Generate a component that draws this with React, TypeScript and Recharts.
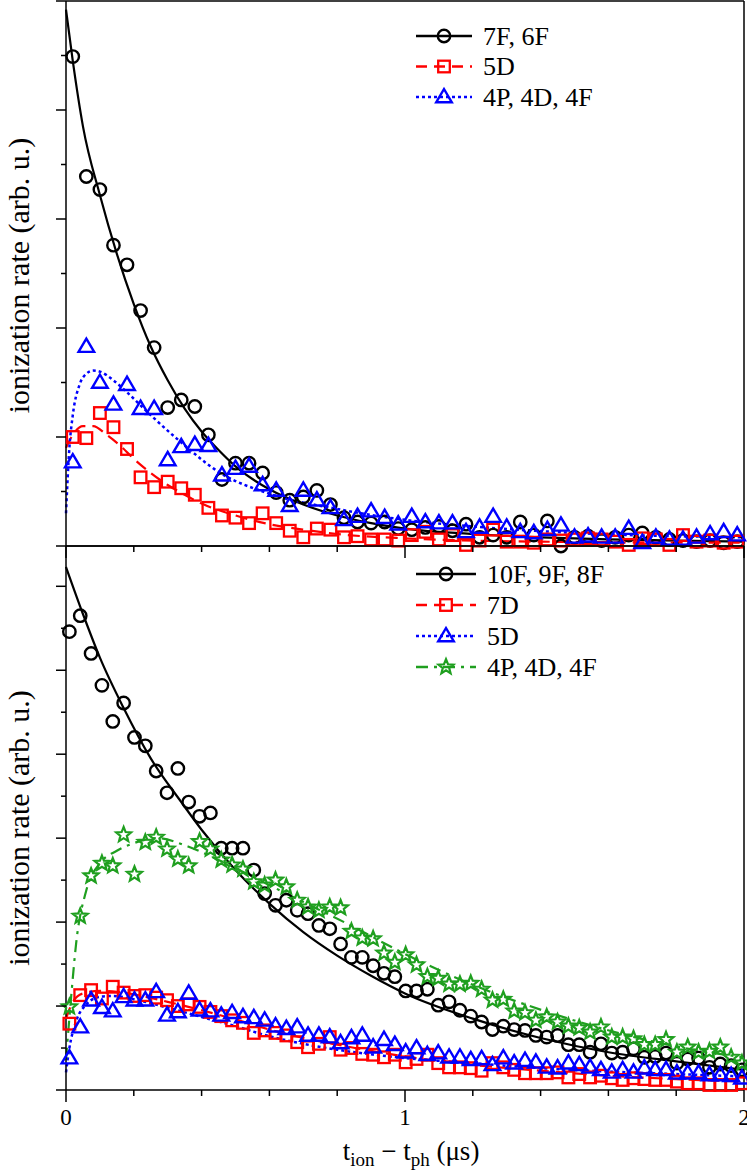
import React from 'react';
import { ComposedChart, Line, Scatter, XAxis, YAxis, Legend } from 'recharts';

const FONT = '"Liberation Serif", "Times New Roman", serif';
const BLACK = '#000000';
const RED = '#ff0000';
const BLUE = '#0000ff';
const GREEN = '#1f9f1f';

// ---------- tick values ----------
const X_MAJOR = [0, 1, 2];
const X_TICKS = [0, 0.2, 0.4, 0.6, 0.8, 1, 1.2, 1.4, 1.6, 1.8, 2];
const TOP_Y_MAX = 5;
const TOP_Y_MAJOR = [0, 1, 2, 3, 4, 5];
const TOP_Y_TICKS = [0, 0.5, 1, 1.5, 2, 2.5, 3, 3.5, 4, 4.5, 5];
const BOT_Y_MAX = 6.48;
const BOT_Y_MAJOR = [0, 1, 2, 3, 4, 5, 6];
const BOT_Y_TICKS = [0, 0.5, 1, 1.5, 2, 2.5, 3, 3.5, 4, 4.5, 5, 5.5, 6];

// ---------- top panel: measured points ----------
const TOP_X = [
  0.02, 0.06, 0.10, 0.14, 0.18, 0.22, 0.26, 0.30, 0.34, 0.38,
  0.42, 0.46, 0.50, 0.54, 0.58, 0.62, 0.66, 0.70, 0.74, 0.78,
  0.82, 0.86, 0.90, 0.94, 0.98, 1.02, 1.06, 1.10, 1.14, 1.18,
  1.22, 1.26, 1.30, 1.34, 1.38, 1.42, 1.46, 1.50, 1.54, 1.58,
  1.62, 1.66, 1.70, 1.74, 1.78, 1.82, 1.86, 1.90, 1.94, 1.98,
];
const TOP_BLACK = [
  4.49, 3.39, 3.27, 2.76, 2.58, 2.16, 1.82, 1.27, 1.34, 1.28,
  1.02, 0.61, 0.76, 0.76, 0.67, 0.49, 0.42, 0.45, 0.51, 0.38,
  0.26, 0.22, 0.21, 0.22, 0.16, 0.15, 0.17, 0.18, 0.14, 0.20,
  0.08, 0.10, 0.08, 0.22, 0.10, 0.23, 0.00, 0.08, 0.09, 0.05,
  0.08, 0.10, 0.12, 0.08, 0.06, 0.05, 0.04, 0.05, 0.03, 0.04,
];
const TOP_RED = [
  1.00, 0.99, 1.22, 1.09, 0.89, 0.63, 0.54, 0.59, 0.53, 0.47,
  0.35, 0.28, 0.26, 0.21, 0.30, 0.21, 0.14, 0.08, 0.16, 0.15,
  0.08, 0.09, 0.06, 0.06, 0.05, 0.10, 0.13, 0.06, 0.10, 0.01,
  0.05, 0.15, 0.04, 0.04, 0.03, 0.06, 0.05, 0.06, 0.07, 0.06,
  0.04, 0.01, 0.07, 0.06, 0.01, 0.10, 0.04, 0.05, 0.03, 0.04,
];
const TOP_BLUE = [
  0.77, 1.83, 1.50, 1.30, 1.48, 1.26, 1.26, 0.79, 0.91, 0.93,
  0.92, 0.65, 0.71, 0.73, 0.56, 0.51, 0.37, 0.51, 0.42, 0.35,
  0.24, 0.27, 0.32, 0.26, 0.20, 0.27, 0.22, 0.21, 0.21, 0.13,
  0.17, 0.27, 0.17, 0.13, 0.12, 0.15, 0.19, 0.08, 0.09, 0.08,
  0.08, 0.16, 0.03, 0.08, 0.06, 0.06, 0.08, 0.11, 0.13, 0.10,
];

// ---------- top panel: fitted curves ----------
const TOP_FIT_BLACK_X = [0, 0.02, 0.05, 0.10, 0.15, 0.20, 0.25, 0.30, 0.35, 0.40, 0.45, 0.50, 0.60, 0.70, 0.80, 0.90, 1.00, 1.20, 1.40, 1.60, 1.80, 2.00];
const TOP_FIT_BLACK_Y = [4.92, 4.45, 3.85, 3.22, 2.68, 2.22, 1.83, 1.52, 1.26, 1.05, 0.88, 0.73, 0.52, 0.38, 0.28, 0.21, 0.16, 0.11, 0.08, 0.06, 0.05, 0.04];
const TOP_FIT_RED_X = [0, 0.02, 0.05, 0.08, 0.12, 0.16, 0.20, 0.25, 0.30, 0.35, 0.40, 0.50, 0.60, 0.70, 0.80, 1.00, 1.40, 2.00];
const TOP_FIT_RED_Y = [0.90, 1.02, 1.10, 1.10, 1.02, 0.92, 0.80, 0.67, 0.56, 0.47, 0.39, 0.28, 0.20, 0.15, 0.11, 0.07, 0.04, 0.03];
const TOP_FIT_BLUE_X = [0, 0.01, 0.02, 0.04, 0.06, 0.08, 0.10, 0.14, 0.18, 0.25, 0.34, 0.45, 0.60, 0.80, 1.00, 1.20, 1.50, 2.00];
const TOP_FIT_BLUE_Y = [0.30, 0.90, 1.20, 1.48, 1.58, 1.61, 1.60, 1.52, 1.41, 1.20, 0.95, 0.68, 0.48, 0.34, 0.24, 0.18, 0.12, 0.08];

// ---------- bottom panel: measured points ----------
const BOT_X = [
  0.010, 0.042, 0.074, 0.106, 0.138, 0.170, 0.202, 0.234, 0.266, 0.298,
  0.330, 0.362, 0.394, 0.426, 0.458, 0.490, 0.522, 0.554, 0.586, 0.618,
  0.650, 0.682, 0.714, 0.746, 0.778, 0.810, 0.842, 0.874, 0.906, 0.938,
  0.970, 1.002, 1.034, 1.066, 1.098, 1.130, 1.162, 1.194, 1.226, 1.258,
  1.290, 1.322, 1.354, 1.386, 1.418, 1.450, 1.482, 1.514, 1.546, 1.578,
  1.610, 1.642, 1.674, 1.706, 1.738, 1.770, 1.802, 1.834, 1.866, 1.898,
  1.930, 1.962, 1.994,
];
const BOT_BLACK = [
  5.46, 5.65, 5.20, 4.82, 4.39, 4.61, 4.20, 4.10, 3.80, 3.54,
  3.83, 3.43, 3.26, 3.30, 2.88, 2.88, 2.88, 2.62, 2.34, 2.20,
  2.26, 2.14, 2.10, 1.96, 1.92, 1.74, 1.58, 1.58, 1.48, 1.39,
  1.35, 1.18, 1.18, 1.20, 1.01, 1.05, 0.95, 0.88, 0.81, 0.72,
  0.76, 0.72, 0.71, 0.65, 0.63, 0.65, 0.54, 0.54, 0.45, 0.55,
  0.44, 0.45, 0.49, 0.39, 0.40, 0.44, 0.32, 0.37, 0.38, 0.27,
  0.31, 0.29, 0.24,
];
const BOT_RED = [
  0.79, 1.13, 1.19, 1.09, 1.23, 1.16, 1.12, 1.13, 1.10, 1.07,
  1.00, 1.02, 0.99, 0.93, 0.88, 0.83, 0.80, 0.68, 0.71, 0.68,
  0.65, 0.57, 0.51, 0.55, 0.63, 0.48, 0.50, 0.43, 0.42, 0.39,
  0.42, 0.33, 0.37, 0.42, 0.32, 0.27, 0.27, 0.26, 0.23, 0.32,
  0.27, 0.24, 0.20, 0.20, 0.20, 0.21, 0.15, 0.19, 0.15, 0.17,
  0.14, 0.12, 0.14, 0.13, 0.12, 0.12, 0.10, 0.08, 0.08, 0.06,
  0.06, 0.06, 0.08,
];
const BOT_BLUE = [
  0.38, 0.75, 1.07, 0.98, 0.94, 1.11, 1.07, 1.07, 1.17, 0.89,
  0.93, 1.15, 0.95, 0.94, 0.89, 0.92, 0.87, 0.86, 0.83, 0.76,
  0.73, 0.75, 0.65, 0.65, 0.63, 0.56, 0.62, 0.65, 0.51, 0.60,
  0.54, 0.45, 0.50, 0.42, 0.44, 0.39, 0.39, 0.36, 0.37, 0.30,
  0.38, 0.32, 0.35, 0.33, 0.27, 0.26, 0.32, 0.30, 0.27, 0.24,
  0.21, 0.24, 0.21, 0.26, 0.24, 0.24, 0.20, 0.20, 0.20, 0.18,
  0.18, 0.17, 0.14,
];
const BOT_GREEN = [
  0.99, 2.07, 2.55, 2.70, 2.67, 3.04, 2.57, 2.95, 3.01, 2.87,
  2.75, 2.67, 2.96, 2.87, 2.74, 2.68, 2.63, 2.48, 2.44, 2.50,
  2.42, 2.26, 2.18, 2.14, 2.18, 2.17, 1.89, 1.81, 1.80, 1.63,
  1.52, 1.61, 1.49, 1.35, 1.33, 1.26, 1.26, 1.27, 1.20, 1.07,
  1.08, 0.94, 0.92, 0.83, 0.87, 0.81, 0.76, 0.74, 0.69, 0.75,
  0.63, 0.63, 0.61, 0.54, 0.54, 0.60, 0.45, 0.51, 0.45, 0.46,
  0.51, 0.39, 0.32,
];

// ---------- bottom panel: fitted curves ----------
const BOT_FIT_BLACK_X = [0, 0.05, 0.10, 0.17, 0.25, 0.34, 0.40, 0.50, 0.60, 0.70, 0.80, 0.90, 1.00, 1.20, 1.40, 1.60, 1.80, 2.00];
const BOT_FIT_BLACK_Y = [6.23, 5.67, 5.15, 4.55, 3.95, 3.43, 3.10, 2.62, 2.22, 1.88, 1.60, 1.36, 1.15, 0.85, 0.62, 0.45, 0.34, 0.24];
const BOT_FIT_RED_X = [0, 0.02, 0.05, 0.10, 0.15, 0.20, 0.30, 0.40, 0.50, 0.60, 0.70, 0.80, 1.00, 1.20, 1.40, 1.60, 1.80, 2.00];
const BOT_FIT_RED_Y = [0.85, 1.05, 1.15, 1.18, 1.17, 1.14, 1.05, 0.95, 0.84, 0.72, 0.62, 0.54, 0.40, 0.30, 0.23, 0.17, 0.13, 0.10];
const BOT_FIT_BLUE_X = [0, 0.01, 0.03, 0.06, 0.10, 0.14, 0.20, 0.30, 0.40, 0.50, 0.60, 0.70, 0.80, 1.00, 1.20, 1.40, 1.60, 1.80, 2.00];
const BOT_FIT_BLUE_Y = [0.21, 0.50, 0.82, 1.02, 1.11, 1.12, 1.08, 0.98, 0.87, 0.76, 0.64, 0.55, 0.48, 0.38, 0.32, 0.26, 0.22, 0.19, 0.16];
const BOT_FIT_GREEN_X = [0, 0.015, 0.03, 0.06, 0.10, 0.15, 0.20, 0.27, 0.36, 0.45, 0.60, 0.70, 0.83, 1.02, 1.22, 1.42, 1.61, 1.81, 2.00];
const BOT_FIT_GREEN_Y = [0.36, 1.10, 1.75, 2.38, 2.70, 2.85, 2.94, 3.00, 2.90, 2.74, 2.44, 2.24, 1.98, 1.58, 1.22, 0.93, 0.70, 0.51, 0.39];

// ---------- legend labels ----------
const TOP_LABELS = ['7F, 6F', '5D', '4P, 4D, 4F'];
const BOT_LABELS = ['10F, 9F, 8F', '7D', '5D', '4P, 4D, 4F'];
const Y_LABEL = 'ionization rate (arb. u.)';

const pts = (xs: number[], ys: number[]) => xs.map((x, i) => ({ x, y: ys[i] }));

// ---------- marker shapes ----------
const CircleMark = (p: any) => (
  <circle cx={p.cx} cy={p.cy} r={6.2} fill="none" stroke={BLACK} strokeWidth={2.4} />
);
const SquareMark = (p: any) => (
  <rect x={p.cx - 5.8} y={p.cy - 5.8} width={11.6} height={11.6} fill="none" stroke={RED} strokeWidth={2.3} />
);
const triPts = (cx: number, cy: number) =>
  `${cx},${cy - 8} ${cx + 7.8},${cy + 5.3} ${cx - 7.8},${cy + 5.3}`;
const TriangleMark = (p: any) => (
  <polygon points={triPts(p.cx, p.cy)} fill="none" stroke={BLUE} strokeWidth={2.4} strokeLinejoin="miter" />
);
const starPts = (cx: number, cy: number) => {
  const out: string[] = [];
  for (let i = 0; i < 10; i++) {
    const r = i % 2 === 0 ? 7.8 : 3.4;
    const a = -Math.PI / 2 + (i * Math.PI) / 5;
    out.push(`${cx + r * Math.cos(a)},${cy + r * Math.sin(a)}`);
  }
  return out.join(' ');
};
const StarMark = (p: any) => (
  <polygon points={starPts(p.cx, p.cy)} fill="none" stroke={GREEN} strokeWidth={2.2} strokeLinejoin="miter" />
);

const SHAPES: Record<string, (cx: number, cy: number) => React.ReactNode> = {
  circle: (cx, cy) => <CircleMark cx={cx} cy={cy} />,
  square: (cx, cy) => <SquareMark cx={cx} cy={cy} />,
  triangle: (cx, cy) => <TriangleMark cx={cx} cy={cy} />,
  star: (cx, cy) => <StarMark cx={cx} cy={cy} />,
};

type LegendItem = { label: string; color: string; dash?: string; shape: string };

const makeLegend = (items: LegendItem[], rowGap: number, lineLen: number, textX: number) => () => (
  <svg width={260} height={rowGap * items.length + 10} style={{ overflow: 'visible', display: 'block' }}>
    {items.map((it, i) => {
      const cy = 18 + i * rowGap;
      return (
        <g key={i}>
          <line x1={6} x2={6 + lineLen} y1={cy} y2={cy} stroke={it.color} strokeWidth={2.4} strokeDasharray={it.dash} />
          {SHAPES[it.shape](6 + lineLen / 2, cy)}
          <text x={textX} y={cy} dominantBaseline="central" fontFamily={FONT} fontSize={26} fill="#000">
            {it.label}
          </text>
        </g>
      );
    })}
  </svg>
);

const DASH_RED = '11 7';
const DASH_BLUE = '3 3';
const DASH_GREEN = '12 6 3 6';

const axisStroke = { stroke: '#000', strokeWidth: 1.5 };

const isMajor = (v: number, majors: number[]) => majors.some((m) => Math.abs(m - v) < 1e-6);

// custom tick: draws the tick mark (major or minor length) and optional label
const makeTick = (side: string, majors: number[], majorLen: number, minorLen: number, withLabel = false) =>
  (props: any) => {
    const { x, y, payload } = props;
    const v = payload ? payload.value : 0;
    const major = isMajor(v, majors);
    const len = major ? majorLen : minorLen;
    let x2 = x;
    let y2 = y;
    if (side === 'left') x2 = x - len;
    if (side === 'right') x2 = x - len;
    if (side === 'top') y2 = y + len;
    if (side === 'bottom') y2 = y + len;
    return (
      <g>
        <line x1={x} y1={y} x2={x2} y2={y2} stroke="#000" strokeWidth={1.5} />
        {withLabel && major ? (
          <text x={x} y={y + 35} textAnchor="middle" fontFamily={FONT} fontSize={23} fill="#000">
            {String(v)}
          </text>
        ) : null}
      </g>
    );
  };

const makeYLabel = (shift: number) => (props: any) => {
  const vb = props.viewBox || {};
  const cx = 18;
  const cy = (vb.y || 0) + (vb.height || 0) / 2 + shift;
  return (
    <text
      x={cx}
      y={cy}
      transform={`rotate(-90 ${cx} ${cy})`}
      textAnchor="middle"
      dominantBaseline="central"
      fontFamily={FONT}
      fontSize={30}
      fill="#000"
    >
      {Y_LABEL}
    </text>
  );
};

const XTitleContent = (props: any) => {
  const vb = props.viewBox || {};
  const x = (vb.x || 0) + (vb.width || 0) / 2 + 6;
  const y = (vb.y || 0) + 70;
  return (
    <text x={x} y={y} textAnchor="middle" fontFamily={FONT} fontSize={27} fill="#000">
      <tspan>t</tspan>
      <tspan fontSize={19} dy={6}>ion</tspan>
      <tspan dy={-6}>{' \u2212 t'}</tspan>
      <tspan fontSize={19} dy={6}>ph</tspan>
      <tspan dy={-6}>{' (\u03bcs)'}</tspan>
    </text>
  );
};

const renderAxes = (yMax: number, yTicks: number[], yMajor: number[], withLabels: boolean, labelShift: number) => [
  <XAxis
    key="xb"
    xAxisId="x"
    dataKey="x"
    type="number"
    orientation="bottom"
    domain={[0, 2]}
    ticks={X_TICKS}
    interval={0}
    height={1}
    tickSize={0}
    tickMargin={0}
    axisLine={axisStroke}
    tickLine={false}
    tick={makeTick('bottom', X_MAJOR, 12, 6, withLabels)}
    label={withLabels ? { content: XTitleContent } : undefined}
  />,
  <XAxis
    key="xt"
    xAxisId="xt"
    dataKey="x"
    type="number"
    orientation="top"
    domain={[0, 2]}
    ticks={X_TICKS}
    interval={0}
    height={1}
    tickSize={0}
    tickMargin={0}
    axisLine={axisStroke}
    tickLine={false}
    tick={makeTick('top', X_MAJOR, 10, 5)}
  />,
  <YAxis
    key="yl"
    yAxisId="y"
    type="number"
    orientation="left"
    domain={[0, yMax]}
    ticks={yTicks}
    interval={0}
    width={1}
    tickSize={0}
    tickMargin={0}
    axisLine={axisStroke}
    tickLine={false}
    tick={makeTick('left', yMajor, 10, 5)}
    label={{ content: makeYLabel(labelShift) }}
  />,
  <YAxis
    key="yr"
    yAxisId="yr"
    type="number"
    orientation="right"
    domain={[0, yMax]}
    ticks={yTicks}
    interval={0}
    width={1}
    tickSize={0}
    tickMargin={0}
    axisLine={axisStroke}
    tickLine={false}
    tick={makeTick('right', yMajor, 10, 5)}
  />,
];

const fitLine = (key: string, data: any[], color: string, dash?: string, width = 2.2) => (
  <Line
    key={key}
    xAxisId="x"
    yAxisId="y"
    data={data}
    dataKey="y"
    type="monotone"
    stroke={color}
    strokeWidth={width}
    strokeDasharray={dash}
    dot={false}
    activeDot={false}
    isAnimationActive={false}
    legendType="none"
  />
);

const scatter = (key: string, data: any[], shape: any) => (
  <Scatter
    key={key}
    xAxisId="x"
    yAxisId="y"
    data={data}
    dataKey="y"
    shape={shape}
    isAnimationActive={false}
    legendType="none"
  />
);

const topLegend = makeLegend(
  [
    { label: TOP_LABELS[0], color: BLACK, shape: 'circle' },
    { label: TOP_LABELS[1], color: RED, dash: DASH_RED, shape: 'square' },
    { label: TOP_LABELS[2], color: BLUE, dash: DASH_BLUE, shape: 'triangle' },
  ],
  30.5,
  56,
  73
);

const botLegend = makeLegend(
  [
    { label: BOT_LABELS[0], color: BLACK, shape: 'circle' },
    { label: BOT_LABELS[1], color: RED, dash: DASH_RED, shape: 'square' },
    { label: BOT_LABELS[2], color: BLUE, dash: DASH_BLUE, shape: 'triangle' },
    { label: BOT_LABELS[3], color: GREEN, dash: DASH_GREEN, shape: 'star' },
  ],
  31,
  60,
  77
);

const legendWrap = (top: number) => ({
  position: 'absolute' as const,
  left: 410,
  top,
  width: 0,
  height: 0,
  overflow: 'visible' as const,
});

export default function App() {
  return (
    <div style={{ position: 'absolute', left: 0, top: 0, width: 747, height: 1175, background: '#fff', fontFamily: FONT }}>
      <div style={{ position: 'absolute', left: 0, top: 0 }}>
        <ComposedChart width={747} height={559} margin={{ top: 0, right: 2, bottom: 12, left: 65 }}>
          {renderAxes(TOP_Y_MAX, TOP_Y_TICKS, TOP_Y_MAJOR, false, 2)}
          {scatter('s1', pts(TOP_X, TOP_BLACK), CircleMark)}
          {fitLine('f1', pts(TOP_FIT_BLACK_X, TOP_FIT_BLACK_Y), BLACK)}
          {scatter('s2', pts(TOP_X, TOP_RED), SquareMark)}
          {fitLine('f2', pts(TOP_FIT_RED_X, TOP_FIT_RED_Y), RED, '12 7')}
          {scatter('s3', pts(TOP_X, TOP_BLUE), TriangleMark)}
          {fitLine('f3', pts(TOP_FIT_BLUE_X, TOP_FIT_BLUE_Y), BLUE, DASH_BLUE, 2.5)}
          <Legend content={topLegend} wrapperStyle={legendWrap(18)} />
        </ComposedChart>
      </div>
      <div style={{ position: 'absolute', left: 0, top: 545 }}>
        <ComposedChart width={747} height={630} margin={{ top: 0, right: 2, bottom: 84, left: 65 }}>
          {renderAxes(BOT_Y_MAX, BOT_Y_TICKS, BOT_Y_MAJOR, true, 10)}
          {scatter('b1', pts(BOT_X, BOT_BLACK), CircleMark)}
          {fitLine('g1', pts(BOT_FIT_BLACK_X, BOT_FIT_BLACK_Y), BLACK)}
          {scatter('b2', pts(BOT_X, BOT_RED), SquareMark)}
          {fitLine('g2', pts(BOT_FIT_RED_X, BOT_FIT_RED_Y), RED, '12 7')}
          {scatter('b3', pts(BOT_X, BOT_BLUE), TriangleMark)}
          {fitLine('g3', pts(BOT_FIT_BLUE_X, BOT_FIT_BLUE_Y), BLUE, DASH_BLUE, 2.5)}
          {scatter('b4', pts(BOT_X, BOT_GREEN), StarMark)}
          {fitLine('g4', pts(BOT_FIT_GREEN_X, BOT_FIT_GREEN_Y), GREEN, DASH_GREEN)}
          <Legend content={botLegend} wrapperStyle={legendWrap(11)} />
        </ComposedChart>
      </div>
    </div>
  );
}
